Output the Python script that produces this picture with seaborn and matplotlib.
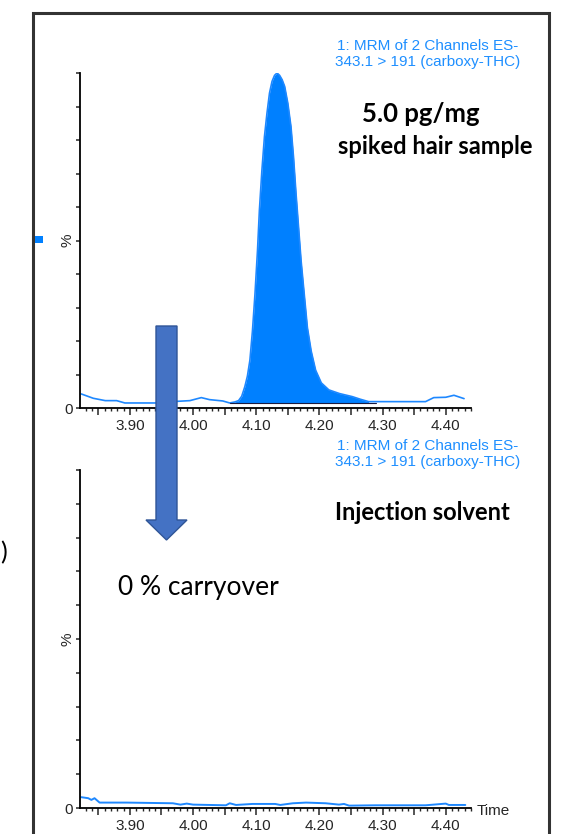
import numpy as np
import pandas as pd
import seaborn as sns
import matplotlib.pyplot as plt
from matplotlib.patches import Rectangle, FancyArrow
from matplotlib.ticker import MultipleLocator, FixedLocator

# 데이터: 크로마토그램 (시간, 상대강도 %)
spiked_time = [3.823, 3.842, 3.861, 3.879, 3.892, 3.942, 3.976, 3.995, 4.013, 4.026,
               4.047, 4.058, 4.066, 4.072, 4.077, 4.082, 4.086, 4.090, 4.094, 4.098,
               4.102, 4.105, 4.109, 4.113, 4.117, 4.121, 4.125, 4.129, 4.133, 4.137,
               4.141, 4.145, 4.150, 4.155, 4.159, 4.163, 4.167, 4.171, 4.176, 4.181,
               4.187, 4.194, 4.203, 4.215, 4.232, 4.252, 4.265, 4.278, 4.294, 4.368,
               4.381, 4.400, 4.413, 4.429]
spiked_pct = [4.2, 2.9, 2.2, 2.2, 1.5, 1.5, 2.0, 2.2, 3.1, 2.5,
              2.1, 1.5, 1.8, 2.2, 3.5, 6.4, 9.5, 14.3, 23.0, 34.0,
              47.0, 59.0, 71.0, 81.0, 88.0, 94.0, 97.5, 99.3, 100.0, 99.3,
              98.0, 96.0, 91.0, 84.0, 75.0, 64.0, 54.0, 44.0, 34.0, 24.0,
              17.0, 11.3, 7.5, 5.4, 4.3, 3.4, 2.6, 1.9, 1.9, 1.9,
              3.1, 3.2, 3.8, 2.8]

solvent_time = [3.823, 3.834, 3.839, 3.844, 3.852, 3.895, 3.968, 3.980, 3.990, 4.000,
                4.052, 4.058, 4.068, 4.094, 4.130, 4.138, 4.158, 4.179, 4.210, 4.231,
                4.239, 4.247, 4.289, 4.368, 4.400, 4.405, 4.431]
solvent_pct = [3.2, 2.9, 2.4, 2.9, 1.6, 1.6, 1.4, 1.0, 1.3, 1.0,
               0.8, 1.4, 0.9, 1.2, 1.2, 0.9, 1.4, 1.6, 1.4, 1.0,
               1.2, 0.7, 0.8, 0.8, 1.3, 0.9, 0.9]

peak_start, peak_end, peak_base = 4.058, 4.289, 1.5

channel_text = '1: MRM of 2 Channels ES-\n343.1 > 191 (carboxy-THC)'

sns.set_style('ticks')
plt.rcParams['font.family'] = ['Liberation Sans', 'DejaVu Sans']

W, H = 575, 834
fig = plt.figure(figsize=(W / 100, H / 100), dpi=100)

trace_blue = '#1E88FF'
fill_blue = '#0080FF'
text_blue = '#1E8FFF'
bold_font = ['Lato', 'DejaVu Sans']


def fx(px):
    return px / W


def fy(py):
    return 1 - py / H


def style_axis(ax):
    ax.set_xlim(3.821, 4.44)
    ax.set_ylim(0, 100)
    for s in ['top', 'right']:
        ax.spines[s].set_visible(False)
    for s in ['left', 'bottom']:
        ax.spines[s].set_linewidth(1.3)
        ax.spines[s].set_color('black')
    ax.xaxis.set_major_locator(MultipleLocator(0.05))
    ax.xaxis.set_minor_locator(MultipleLocator(0.01))
    ticks = ax.get_xticks()
    ax.set_xticklabels([f'{t:.2f}' if abs(round(t * 10) - t * 10) < 1e-6 else '' for t in ticks])
    ax.yaxis.set_major_locator(FixedLocator(list(range(0, 101, 10))))
    ax.set_yticklabels(['0'] + [''] * 10)
    ax.tick_params(axis='x', which='major', length=5, width=1.1, labelsize=11, pad=3)
    ax.tick_params(axis='x', which='minor', length=2.5, width=1.0)
    ax.tick_params(axis='y', which='major', length=3, width=1.1, labelsize=11, pad=2)
    ax.set_xlabel('')
    ax.set_ylabel('%', fontsize=11, rotation=90)
    ax.yaxis.set_label_coords(-0.015, 0.5)


# 위쪽: 5.0 pg/mg 모발 샘플
ax1 = fig.add_axes([fx(80), fy(408), fx(471) - fx(80), fy(73) - fy(408)])
df1 = pd.DataFrame({'time': spiked_time, 'pct': spiked_pct})
sns.lineplot(data=df1, x='time', y='pct', ax=ax1, color=trace_blue, linewidth=1.2)
t1 = np.array(spiked_time)
p1 = np.array(spiked_pct)
mask = (t1 >= peak_start) & (t1 <= peak_end)
ax1.fill_between(t1[mask], peak_base, p1[mask], color=fill_blue, linewidth=0)
ax1.plot([peak_start, peak_end], [peak_base, peak_base], color='#1a1a40', linewidth=0.8)
style_axis(ax1)

# 아래쪽: 주입 용매
ax2 = fig.add_axes([fx(80), fy(808), fx(471) - fx(80), fy(470) - fy(808)])
df2 = pd.DataFrame({'time': solvent_time, 'pct': solvent_pct})
sns.lineplot(data=df2, x='time', y='pct', ax=ax2, color=trace_blue, linewidth=1.4)
style_axis(ax2)
ax2.text(1.015, -0.01, 'Time', transform=ax2.transAxes, fontsize=11, ha='left', va='center')

# 텍스트 주석
fig.text(fx(428), fy(54), channel_text, color=text_blue, fontsize=11, ha='center',
         va='center', linespacing=1.25)
fig.text(fx(428), fy(454), channel_text, color=text_blue, fontsize=11, ha='center',
         va='center', linespacing=1.25)
fig.text(fx(421), fy(114), '5.0 pg/mg', fontsize=18.5, fontweight='bold', ha='center',
         va='center', family=bold_font, color='black')
fig.text(fx(435), fy(147), 'spiked hair sample', fontsize=17, fontweight='bold', ha='center',
         va='center', family=bold_font, color='black')
fig.text(fx(422), fy(512), 'Injection solvent', fontsize=17, fontweight='bold', ha='center',
         va='center', family=bold_font, color='black')
fig.text(fx(198), fy(587), '0 % carryover', fontsize=19, ha='center', va='center',
         family=bold_font, color='black')
fig.text(fx(0), fy(553), ')', fontsize=18, ha='left', va='center',
         family=bold_font, color='black')

# 화살표
arrow = FancyArrow(166.5 / 100, (H - 326) / 100, 0, -(540 - 326) / 100,
                   width=0.21, head_width=0.41, head_length=0.20,
                   length_includes_head=True, transform=fig.dpi_scale_trans,
                   facecolor='#4472C4', edgecolor='#2F5597', linewidth=1.0)
fig.add_artist(arrow)

# 테두리와 작은 파란 사각형
frame = Rectangle((fx(33), -0.1), fx(549) - fx(33), fy(13) + 0.1,
                  transform=fig.transFigure, fill=False, edgecolor='#333333',
                  linewidth=2.2)
fig.add_artist(frame)
fig.add_artist(Rectangle((fx(35), fy(243)), fx(8), 7 / H, transform=fig.transFigure,
                         facecolor=fill_blue, edgecolor='none'))

plt.savefig('out.png', dpi=100)
